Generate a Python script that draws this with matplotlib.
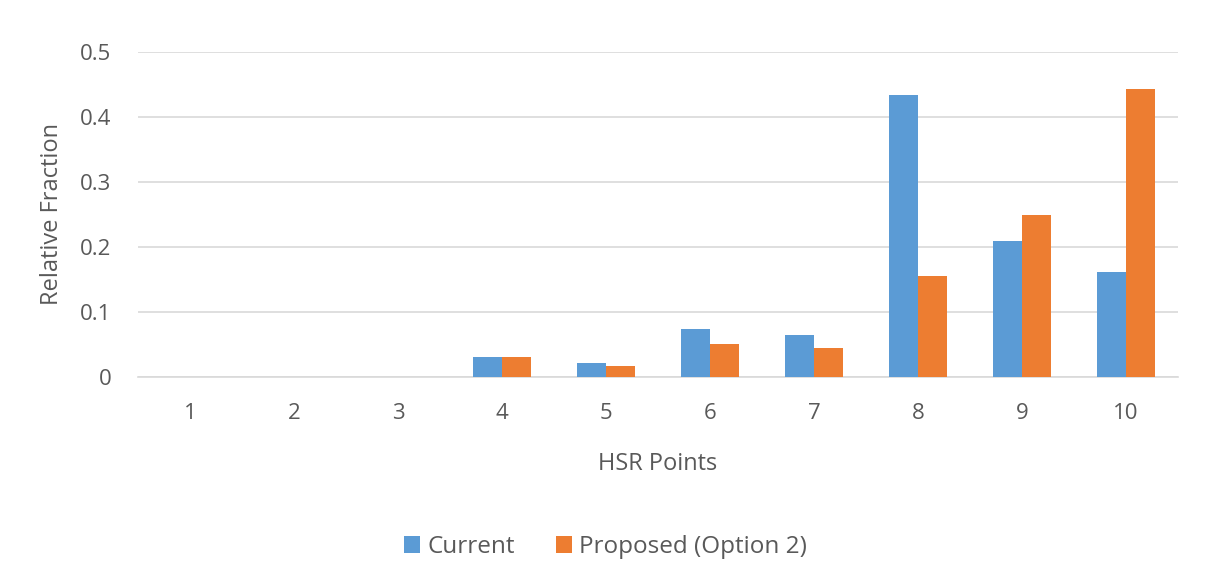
import numpy as np
import matplotlib.pyplot as plt

# data
points = [1, 2, 3, 4, 5, 6, 7, 8, 9, 10]
current = [0, 0, 0, 0.031, 0.022, 0.074, 0.064, 0.434, 0.209, 0.161]
proposed = [0, 0, 0, 0.031, 0.017, 0.050, 0.045, 0.156, 0.249, 0.443]

plt.rcParams['font.family'] = ['Open Sans', 'DejaVu Sans']
grey = '#595959'

fig = plt.figure(figsize=(12.06, 5.87), dpi=100)
ax = fig.add_axes([0.1144, 0.3578, 0.8624, 0.5536])

x = np.arange(len(points)) + 1
w = 0.28
ax.bar(x - w/2, current, w, color='#5B9BD5', label='Current', zorder=3)
ax.bar(x + w/2, proposed, w, color='#ED7D31', label='Proposed (Option 2)', zorder=3)

ax.set_xlim(0.5, 10.5)
ax.set_ylim(0, 0.5)
ax.set_yticks([0, 0.1, 0.2, 0.3, 0.4, 0.5])
ax.set_yticklabels(['0', '0.1', '0.2', '0.3', '0.4', '0.5'])
ax.set_xticks(x)
ax.set_xticklabels([str(p) for p in points])
ax.tick_params(length=0, labelsize=16, colors=grey)
ax.tick_params(axis='x', pad=19)
ax.tick_params(axis='y', pad=19)

ax.grid(axis='y', color='#d9d9d9', linewidth=1.2, zorder=0)
for s in ['top', 'right', 'left']:
    ax.spines[s].set_visible(False)
ax.spines['bottom'].set_color('#d9d9d9')
ax.spines['bottom'].set_linewidth(1.2)

ax.set_xlabel('HSR Points', fontsize=17, color=grey, labelpad=20)
ax.set_ylabel('Relative Fraction', fontsize=17, color=grey, labelpad=12)

fig.legend(loc='center', bbox_to_anchor=(0.502, 0.068), ncol=2, frameon=False,
           fontsize=17.5, labelcolor=grey, handlelength=0.65, handleheight=0.65,
           handletextpad=0.3, columnspacing=1.7)

fig.savefig('out.png', dpi=100)
